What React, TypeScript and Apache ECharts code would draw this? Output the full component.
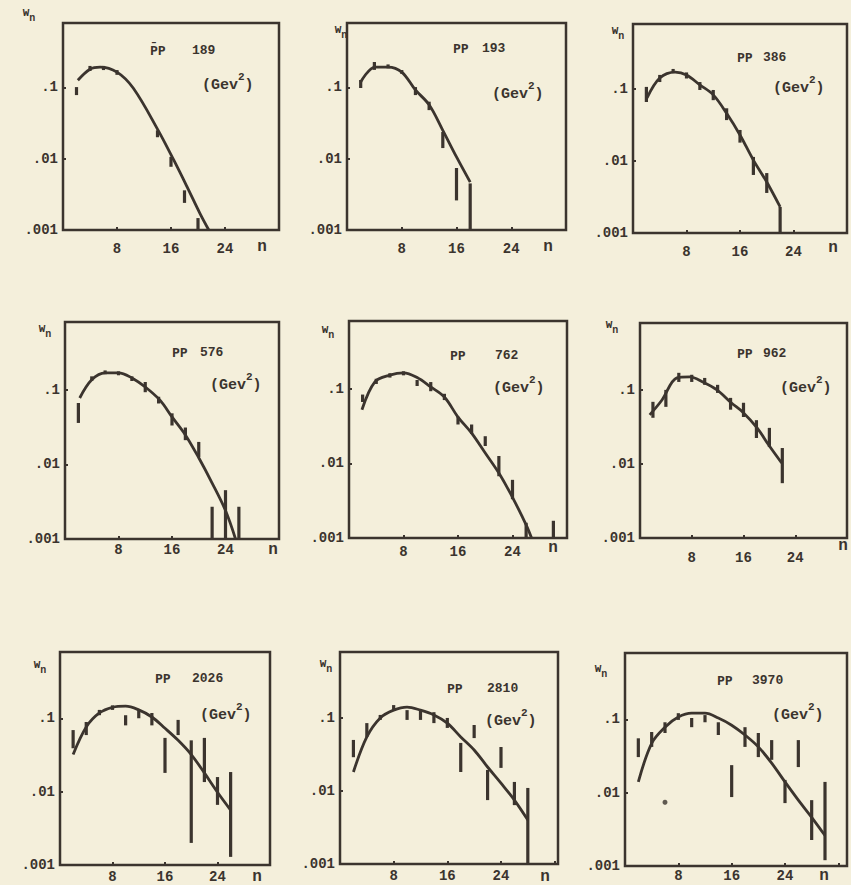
import React, { useEffect, useRef } from "react";
import * as echarts from "echarts";

const INK = "#3b342e";
const PAPER = "#f4efdb";
const MONO = "'Liberation Mono', 'DejaVu Sans Mono', monospace";
const BEAM_FONT = "'DejaVu Sans Mono', 'Liberation Mono', monospace";

// ---------- data (n, W_n) ----------
const energies = ["189", "193", "386", "576", "762", "962", "2026", "2810", "3970"];
const beams = ["P\u0304P", "PP", "PP", "PP", "PP", "PP", "PP", "PP", "PP"];
const xTickLabels = [8, 16, 24];
const yTickLabels: Record<string, string> = { "-3": ".001", "-2": ".01", "-1": ".1" };

const curve189 = [[2.2, 0.126], [4, 0.18], [5.5, 0.193], [8, 0.164], [10.4, 0.098], [14.1, 0.025], [16.4, 0.0096], [18.4, 0.004], [20.3, 0.0017], [21.6, 0.001]];
const bars189 = [[2, 0.078, 0.101], [4, 0.17, 0.2], [6, 0.175, 0.2], [8, 0.15, 0.175], [14, 0.02, 0.025], [16, 0.0077, 0.0106], [18, 0.0024, 0.0036], [20, 0.001, 0.00147]];

const curve193 = [[2, 0.119], [4.1, 0.193], [6, 0.193], [8, 0.164], [10, 0.092], [12, 0.057], [14, 0.025], [16, 0.0106], [18, 0.0047]];
const bars193 = [[2, 0.098, 0.127], [4, 0.176, 0.227], [6, 0.185, 0.21], [8, 0.155, 0.175], [10, 0.078, 0.101], [12, 0.048, 0.063], [14, 0.0141, 0.0237], [16, 0.0026, 0.0074], [18, 0.001, 0.0045]];

const curve386 = [[2.1, 0.075], [4, 0.142], [6.3, 0.172], [8, 0.157], [10, 0.114], [12, 0.083], [14, 0.046], [16, 0.023], [18, 0.0103], [20, 0.0051], [22, 0.0023]];
const bars386 = [[2, 0.066, 0.107], [4, 0.125, 0.157], [6, 0.17, 0.19], [8, 0.14, 0.17], [10, 0.097, 0.125], [12, 0.07, 0.097], [14, 0.037, 0.054], [16, 0.018, 0.027], [18, 0.0064, 0.0114], [20, 0.0036, 0.0068], [22, 0.001, 0.0023]];

const curve576 = [[2.2, 0.077], [4, 0.135], [6, 0.167], [8, 0.167], [10, 0.143], [12, 0.108], [14.2, 0.072], [16, 0.043], [18, 0.0247], [20, 0.0122], [22, 0.0056], [24, 0.0024], [25.5, 0.001]];
const bars576 = [[2, 0.0357, 0.066], [4, 0.13, 0.15], [6, 0.16, 0.18], [8, 0.155, 0.175], [10, 0.13, 0.15], [12, 0.092, 0.126], [14, 0.065, 0.08], [16, 0.033, 0.048], [18, 0.021, 0.031], [20, 0.0125, 0.0199], [22, 0.001, 0.0027], [24, 0.001, 0.0045], [26, 0.001, 0.0027]];

const curve762 = [[1.9, 0.052], [3.8, 0.123], [6, 0.151], [8, 0.162], [10, 0.14], [12, 0.105], [14, 0.077], [16, 0.0415], [18, 0.0253], [20, 0.0137], [22, 0.0074], [24, 0.0035], [26, 0.0015], [26.8, 0.001]];
const bars762 = [[2, 0.066, 0.083], [4, 0.115, 0.135], [6, 0.14, 0.16], [8, 0.15, 0.17], [10, 0.108, 0.13], [12, 0.092, 0.122], [14, 0.07, 0.085], [16, 0.033, 0.042], [18, 0.0247, 0.033], [20, 0.017, 0.023], [22, 0.0067, 0.0125], [24, 0.0033, 0.006], [26, 0.001, 0.0016], [30, 0.001, 0.0017]];

const curve962 = [[1.5, 0.046], [3.4, 0.073], [5.7, 0.145], [7.7, 0.15], [9.7, 0.128], [11.9, 0.1], [14.1, 0.067], [15.9, 0.05], [18.1, 0.0307], [19.9, 0.018], [21.9, 0.0103]];
const bars962 = [[2, 0.042, 0.069], [4, 0.059, 0.1], [6, 0.128, 0.17], [8, 0.128, 0.16], [10, 0.117, 0.145], [12, 0.091, 0.117], [14, 0.054, 0.078], [16, 0.043, 0.067], [18, 0.0224, 0.039], [20, 0.0169, 0.0307], [22, 0.0055, 0.0164]];

const curve2026 = [[2, 0.032], [4, 0.076], [6, 0.118], [8, 0.141], [10, 0.146], [12, 0.13], [14, 0.104], [16, 0.073], [18, 0.05], [20, 0.032], [22, 0.018], [24, 0.0098], [26, 0.0056]];
const bars2026 = [[2, 0.039, 0.069], [4, 0.059, 0.089], [6, 0.11, 0.13], [8, 0.13, 0.15], [10, 0.08, 0.11], [12, 0.1, 0.13], [14, 0.08, 0.118], [16, 0.018, 0.054], [18, 0.059, 0.095], [20, 0.002, 0.05], [22, 0.0135, 0.054], [24, 0.0066, 0.0158], [26, 0.00129, 0.0185]];

const curve2810 = [[2, 0.0182], [4, 0.055], [6, 0.1], [8, 0.128], [10, 0.141], [12, 0.128], [14, 0.11], [16, 0.085], [18, 0.055], [20, 0.0364], [22, 0.0213], [24, 0.0128], [26, 0.0075], [28, 0.004]];
const bars2810 = [[2, 0.029, 0.05], [4, 0.055, 0.085], [6, 0.094, 0.11], [8, 0.128, 0.15], [10, 0.094, 0.128], [12, 0.094, 0.128], [14, 0.085, 0.12], [16, 0.073, 0.1], [18, 0.0182, 0.0455], [20, 0.053, 0.08], [22, 0.0075, 0.0194], [24, 0.0207, 0.04], [26, 0.0064, 0.0133], [28, 0.001, 0.011]];

const curve3970 = [[2, 0.014], [4, 0.047], [6, 0.078], [8, 0.107], [10, 0.121], [12, 0.121], [14, 0.104], [16, 0.083], [18, 0.061], [20, 0.042], [22, 0.0253], [24, 0.014], [26, 0.0079], [28, 0.0046], [30, 0.0026]];
const bars3970 = [[2, 0.0305, 0.055], [4, 0.042, 0.067], [6, 0.065, 0.091], [8, 0.098, 0.121], [10, 0.078, 0.104], [12, 0.091, 0.114], [14, 0.061, 0.091], [16, 0.0087, 0.0237], [18, 0.042, 0.078], [20, 0.0305, 0.065], [22, 0.028, 0.052], [24, 0.0072, 0.0149], [26, 0.0223, 0.052], [28, 0.00226, 0.0079], [30, 0.0012, 0.014]];
const dots3970 = [[6, 0.0074]];

const curves = [curve189, curve193, curve386, curve576, curve762, curve962, curve2026, curve2810, curve3970];
const bars = [bars189, bars193, bars386, bars576, bars762, bars962, bars2026, bars2810, bars3970];

// ---------- layout ----------
// [left, top, width, height] of each panel's frame
const boxes = [
  [63, 23, 216, 207], [347, 23, 219, 207], [633, 24, 214, 209],
  [65, 322, 214, 217], [349, 321, 218, 217], [640, 323, 207, 215],
  [60, 652, 210, 213], [340, 652, 218, 212], [625, 653, 222, 213],
];
const xMaxes = [32, 32, 32, 32, 32, 32, 32, 32.5, 33.3];
const xLabelMargins = [12, 12, 12, 4, 7, 13, 5, 5, 3];
// label offsets relative to frame: [beamDx, energyDx, dy, gevDx, gevDy]
const labelOffsets = [
  [87, 129, 27, 139, 59], [106, 135, 25, 145, 68], [104, 130, 33, 140, 61],
  [107, 135, 30, 145, 60], [101, 146, 34, 144, 64], [97, 123, 30, 140, 62],
  [95, 132, 26, 140, 60], [107, 147, 36, 145, 66], [92, 127, 27, 147, 59],
];
const wnPos = [[29, 15], [341, 32], [618, 33], [45, 331], [328, 332], [612, 327], [40, 667], [326, 666], [601, 671]];
const nPos = [[262, 247], [548, 247], [833, 248], [273, 550], [553, 548], [843, 546], [257, 877], [545, 877], [824, 876]];

function fmtX(v: number) {
  return xTickLabels.includes(v) ? String(v) : "";
}
function fmtY(v: number) {
  const l = Math.log10(v);
  const r = Math.round(l);
  if (Math.abs(l - r) > 0.01) return "";
  return yTickLabels[String(r)] || "";
}

function buildOption() {
  const grid = boxes.map(([l, t, w, h]) => ({
    left: l, top: t, width: w, height: h,
    show: true, borderColor: INK, borderWidth: 2.5, backgroundColor: "transparent",
  }));
  const xAxis = boxes.map((_, i) => ({
    type: "value", gridIndex: i, min: 0, max: xMaxes[i], interval: 8,
    axisLine: { show: false },
    axisTick: { show: true, inside: true, length: 3, lineStyle: { color: INK, width: 2 } },
    splitLine: { show: false },
    axisLabel: { formatter: fmtX, color: INK, fontFamily: MONO, fontWeight: "bold", fontSize: 14, margin: xLabelMargins[i] },
  }));
  const yAxis = boxes.map((_, i) => ({
    type: "log", logBase: 10, gridIndex: i, min: 0.001, max: 0.8,
    axisLine: { show: false },
    axisTick: { show: true, inside: true, length: 3, lineStyle: { color: INK, width: 2 } },
    minorTick: { show: false },
    splitLine: { show: false },
    axisLabel: { formatter: fmtY, color: INK, fontFamily: MONO, fontWeight: "bold", fontSize: 14, margin: 5 },
  }));
  const series: any[] = [];
  curves.forEach((c, i) => {
    series.push({
      type: "line", xAxisIndex: i, yAxisIndex: i, data: c, smooth: 0.35,
      showSymbol: false, lineStyle: { color: INK, width: 2.8 }, silent: true,
    });
    series.push({
      type: "custom", xAxisIndex: i, yAxisIndex: i, data: bars[i],
      encode: { x: 0, y: [1, 2] }, silent: true,
      renderItem: (_p: any, api: any) => {
        const n = api.value(0);
        const a = api.coord([n, api.value(1)]);
        const b = api.coord([n, api.value(2)]);
        return {
          type: "line",
          shape: { x1: a[0], y1: a[1], x2: b[0], y2: b[1] },
          style: { stroke: INK, lineWidth: 3.2 },
        };
      },
    });
  });
  series.push({
    type: "scatter", xAxisIndex: 8, yAxisIndex: 8, data: dots3970,
    symbolSize: 5, itemStyle: { color: INK }, silent: true,
  });

  const elements: any[] = [];
  boxes.forEach(([l, t], i) => {
    const [bDx, eDx, dy, gDx, gDy] = labelOffsets[i];
    elements.push({
      type: "text", x: l + bDx, y: t + dy,
      style: { text: beams[i], fill: INK, font: `bold 13px ${BEAM_FONT}`, align: "left", verticalAlign: "middle" },
    });
    elements.push({
      type: "text", x: l + eDx, y: t + dy,
      style: { text: energies[i], fill: INK, font: `bold 13px ${MONO}`, align: "left", verticalAlign: "middle" },
    });
    elements.push({
      type: "text", x: l + gDx, y: t + gDy,
      style: {
        text: "{a|(Gev}{s|2}{a|)}", fill: INK, align: "left", verticalAlign: "middle",
        rich: {
          a: { fontFamily: MONO, fontWeight: "bold", fontSize: 15, lineHeight: 22, verticalAlign: "bottom", fill: INK },
          s: { fontFamily: MONO, fontWeight: "bold", fontSize: 11, lineHeight: 22, verticalAlign: "top", fill: INK },
        },
      },
    });
    elements.push({
      type: "text", x: wnPos[i][0], y: wnPos[i][1],
      style: {
        text: "{w|W}{n|n}", fill: INK, align: "center", verticalAlign: "middle",
        rich: {
          w: { fontFamily: MONO, fontWeight: "bold", fontSize: 11, lineHeight: 16, verticalAlign: "top", fill: INK },
          n: { fontFamily: MONO, fontWeight: "bold", fontSize: 10, lineHeight: 16, verticalAlign: "bottom", fill: INK },
        },
      },
    });
    elements.push({
      type: "text", x: nPos[i][0], y: nPos[i][1],
      style: { text: "n", fill: INK, font: `bold 16px ${MONO}`, align: "center", verticalAlign: "middle" },
    });
  });

  return {
    animation: false,
    backgroundColor: PAPER,
    grid, xAxis, yAxis, series,
    graphic: { elements },
  };
}

export default function App() {
  const ref = useRef<HTMLDivElement>(null);
  useEffect(() => {
    document.body.style.margin = "0";
    document.body.style.background = PAPER;
    const chart = echarts.init(ref.current as HTMLDivElement, null, { renderer: "svg" });
    chart.setOption(buildOption() as any);
    return () => chart.dispose();
  }, []);
  return <div ref={ref} style={{ width: 851, height: 885, background: PAPER }} />;
}
